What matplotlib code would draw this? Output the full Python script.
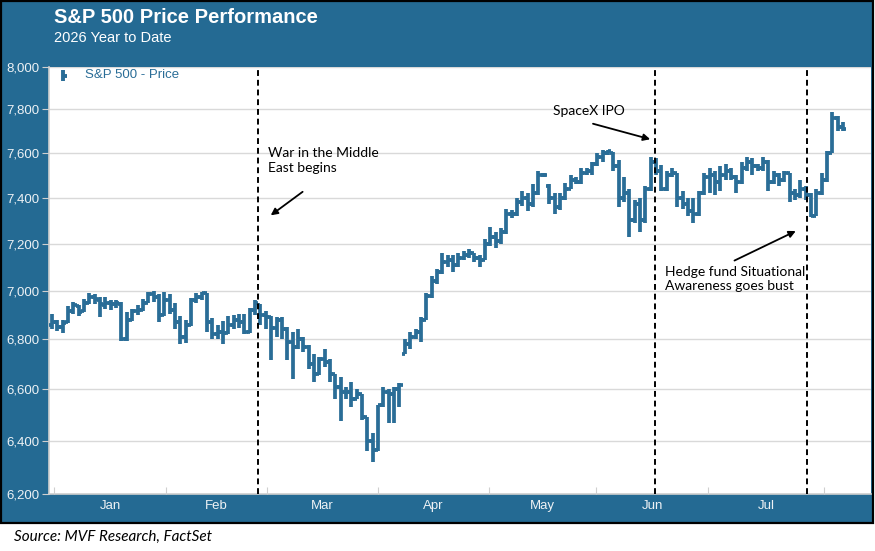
import matplotlib.pyplot as plt
from matplotlib.patches import Rectangle
from matplotlib.ticker import FixedLocator, NullLocator, FuncFormatter

# daily OHLC values (trading days, Jan -> early Aug)
opens = [
    6860, 6870, 6850, 6870, 6915, 6935, 6915, 6950, 6975, 6960,
    6940, 6950, 6945, 6945, 6800, 6880, 6915, 6920, 6950, 6985,
    6975, 6900, 6960, 6920, 6870, 6810, 6860, 6960, 6975, 6990,
    6870, 6820, 6830, 6825, 6860, 6880, 6870, 6830, 6920, 6940,
    6900, 6890, 6845, 6880, 6840, 6790, 6770, 6800, 6770, 6700,
    6660, 6720, 6710, 6660, 6610, 6590, 6590, 6560, 6580, 6490,
    6400, 6365, 6540, 6590, 6580, 6600, 6740, 6780, 6810, 6830,
    6880, 6980, 7040, 7080, 7120, 7130, 7110, 7140, 7150, 7160,
    7140, 7130, 7200, 7230, 7210, 7250, 7330, 7330, 7380, 7400,
    7370, 7420, 7500, 7450, 7400, 7360, 7400, 7440, 7480, 7470,
    7510, 7520, 7550, 7580, 7600, 7600, 7540, 7400, 7420, 7300,
    7370, 7300, 7440, 7560, 7520, 7440, 7500, 7510, 7400, 7370,
    7340, 7330, 7420, 7490, 7500, 7470, 7500, 7520, 7490, 7470,
    7530, 7560, 7540, 7530, 7560, 7470, 7500, 7480, 7510, 7420,
    7410, 7440, 7410, 7320, 7420, 7480, 7600, 7760, 7720,
]
highs = [
    6905, 6880, 6880, 6935, 6955, 6940, 6965, 6990, 6985, 6975,
    6975, 6960, 6960, 6955, 6910, 6925, 6940, 6965, 6995, 7000,
    6985, 6995, 6985, 6950, 6895, 6880, 6970, 6990, 6995, 6990,
    6885, 6860, 6875, 6895, 6900, 6905, 6905, 6930, 6960, 6945,
    6915, 6895, 6890, 6890, 6850, 6830, 6840, 6810, 6775, 6740,
    6730, 6760, 6720, 6660, 6650, 6610, 6630, 6600, 6580, 6490,
    6430, 6540, 6610, 6600, 6610, 6625, 6800, 6830, 6840, 6890,
    6990, 7060, 7090, 7160, 7150, 7150, 7160, 7170, 7175, 7160,
    7150, 7220, 7270, 7250, 7265, 7350, 7345, 7400, 7430, 7420,
    7460, 7520, 7510, 7460, 7420, 7420, 7465, 7500, 7490, 7530,
    7530, 7560, 7600, 7615, 7615, 7605, 7570, 7490, 7440, 7390,
    7400, 7450, 7580, 7575, 7545, 7520, 7530, 7510, 7430, 7400,
    7400, 7430, 7510, 7530, 7520, 7540, 7550, 7530, 7500, 7560,
    7580, 7575, 7550, 7580, 7570, 7520, 7510, 7520, 7510, 7440,
    7480, 7450, 7420, 7440, 7510, 7610, 7790, 7770, 7740,
]
lows = [
    6840, 6835, 6825, 6865, 6905, 6895, 6910, 6945, 6945, 6890,
    6925, 6920, 6930, 6795, 6795, 6875, 6900, 6915, 6950, 6955,
    6870, 6895, 6905, 6840, 6780, 6785, 6855, 6950, 6960, 6830,
    6800, 6800, 6780, 6820, 6840, 6845, 6820, 6825, 6900, 6860,
    6840, 6715, 6810, 6800, 6715, 6640, 6760, 6750, 6680, 6630,
    6655, 6690, 6630, 6560, 6475, 6560, 6530, 6560, 6480, 6360,
    6320, 6360, 6530, 6470, 6470, 6530, 6740, 6760, 6800, 6790,
    6880, 6970, 7030, 7070, 7100, 7080, 7100, 7130, 7140, 7120,
    7100, 7130, 7190, 7180, 7200, 7240, 7310, 7320, 7365, 7340,
    7360, 7410, 7490, 7370, 7330, 7345, 7390, 7440, 7460, 7460,
    7500, 7500, 7540, 7560, 7590, 7520, 7360, 7380, 7230, 7290,
    7250, 7290, 7430, 7500, 7430, 7430, 7490, 7360, 7350, 7320,
    7290, 7320, 7410, 7420, 7410, 7430, 7480, 7480, 7420, 7460,
    7520, 7500, 7520, 7520, 7430, 7460, 7450, 7470, 7380, 7390,
    7400, 7390, 7315, 7320, 7410, 7470, 7600, 7700, 7700,
]
closes = [
    6870, 6850, 6865, 6915, 6940, 6910, 6950, 6975, 6965, 6945,
    6950, 6945, 6950, 6800, 6880, 6915, 6920, 6950, 6985, 6975,
    6900, 6960, 6920, 6870, 6810, 6860, 6960, 6975, 6990, 6870,
    6820, 6830, 6825, 6860, 6880, 6870, 6830, 6920, 6950, 6900,
    6890, 6845, 6880, 6840, 6790, 6770, 6800, 6770, 6700, 6660,
    6720, 6710, 6660, 6610, 6590, 6590, 6560, 6580, 6490, 6400,
    6365, 6540, 6590, 6580, 6600, 6615, 6780, 6810, 6830, 6880,
    6980, 7040, 7080, 7120, 7130, 7110, 7140, 7150, 7160, 7140,
    7130, 7200, 7230, 7210, 7250, 7330, 7330, 7380, 7400, 7370,
    7420, 7500, 7500, 7400, 7360, 7400, 7440, 7480, 7470, 7510,
    7520, 7550, 7580, 7600, 7610, 7540, 7400, 7420, 7300, 7370,
    7300, 7440, 7560, 7520, 7440, 7500, 7510, 7400, 7370, 7340,
    7330, 7420, 7490, 7500, 7470, 7500, 7520, 7490, 7470, 7530,
    7560, 7540, 7530, 7560, 7470, 7500, 7480, 7510, 7420, 7410,
    7440, 7410, 7320, 7420, 7480, 7600, 7760, 7720, 7710,
]

months = ['Jan', 'Feb', 'Mar', 'Apr', 'May', 'Jun', 'Jul']
month_edges = [0.4, 21.3, 40.2, 61.0, 81.8, 101.8, 122.7, 144.4]
y_ticks = [6200, 6400, 6600, 6800, 7000, 7200, 7400, 7600, 7800, 8000]
event_days = [38.5, 112.8, 141.3]

PANEL = '#246a93'
BAR = '#2a6d97'
LABEL = '#eef2f5'

fig = plt.figure(figsize=(8.75, 5.51), dpi=100)
fig.patch.set_facecolor('white')

# blue backdrop with black frame
fig.add_artist(Rectangle((0.001, 0.0508), 0.9965, 0.9475, transform=fig.transFigure,
                         facecolor=PANEL, edgecolor='black', lw=1.6, zorder=0))

ax = fig.add_axes([0.056, 0.1034, 0.9394, 0.775])
ax.set_facecolor('white')

x = list(range(len(closes)))
ax.vlines(x, lows, highs, color=BAR, lw=2.7, zorder=3)
ax.hlines(opens, [i - 0.6 for i in x], x, color=BAR, lw=2.7, zorder=3)
ax.hlines(closes, x, [i + 0.6 for i in x], color=BAR, lw=2.7, zorder=3)

ax.set_yscale('log')
ax.set_ylim(6200, 8000)
ax.set_xlim(-0.56, 153.2)
ax.yaxis.set_major_locator(FixedLocator(y_ticks))
ax.yaxis.set_minor_locator(NullLocator())
ax.yaxis.set_major_formatter(FuncFormatter(lambda v, p: f'{int(round(v)):,}'))
ax.grid(axis='y', color='#d9d9d9', lw=1, zorder=0)

ax.set_xticks(month_edges)
ax.set_xticklabels([])
centers = [(month_edges[k] + month_edges[k + 1]) / 2 for k in range(len(months))]
ax.set_xticks(centers, minor=True)
ax.set_xticklabels(months, minor=True)
ax.tick_params(axis='x', which='major', direction='in', length=5, color='#cfcfcf')
ax.tick_params(axis='x', which='minor', length=0, pad=4, labelsize=9.5, labelcolor=LABEL)
ax.tick_params(axis='y', direction='out', length=5, color='#cfcfcf', labelsize=9.5,
               labelcolor=LABEL, pad=2)
for lab in ax.get_xticklabels(minor=True) + ax.get_yticklabels():
    lab.set_family('Liberation Sans')

for side in ['top', 'right']:
    ax.spines[side].set_visible(False)
for side in ['left', 'bottom']:
    ax.spines[side].set_color('#cfcfcf')
    ax.spines[side].set_linewidth(1.2)

for d in event_days:
    ax.axvline(d, color='black', ls=(0, (3, 2)), lw=1.4, zorder=4)

# legend entry
ax.plot([0.017, 0.017], [0.968, 0.994], transform=ax.transAxes, color=BAR, lw=2.8,
        solid_capstyle='butt')
ax.plot([0.017, 0.022], [0.979, 0.979], transform=ax.transAxes, color=BAR, lw=2.8,
        solid_capstyle='butt')
ax.text(0.0438, 0.981, 'S&P 500 - Price', transform=ax.transAxes, color=BAR,
        fontsize=9.5, family='Liberation Sans', va='center', ha='left')

note_font = dict(fontsize=10, family='Lato', color='black', linespacing=1.25)
arrow = dict(arrowstyle='-|>', color='black', lw=1.3, mutation_scale=10)
ax.text(40.4, 7625, 'War in the Middle\nEast begins', va='top', ha='left', **note_font)
ax.annotate('', xy=(40.5, 7315), xytext=(47.3, 7433), arrowprops=arrow)
ax.text(93.7, 7793, 'SpaceX IPO', va='center', ha='left', **note_font)
ax.annotate('', xy=(112.4, 7659), xytext=(100.7, 7737), arrowprops=arrow)
ax.text(114.7, 7105, 'Hedge fund Situational\nAwareness goes bust', va='top', ha='left',
        **note_font)
ax.annotate('', xy=(139.6, 7259), xytext=(127.2, 7122), arrowprops=arrow)

fig.text(0.0617, 0.969, 'S&P 500 Price Performance', color='white', fontsize=14.5,
         fontweight='bold', family='Liberation Sans', va='center', ha='left')
fig.text(0.0617, 0.931, '2026 Year to Date', color='white', fontsize=10.5,
         family='Liberation Sans', va='center', ha='left')
fig.text(0.016, 0.0254, 'Source: MVF Research, FactSet', color='black', fontsize=11,
         style='italic', family='Lato', va='center', ha='left')

fig.savefig('out.png', dpi=100)
